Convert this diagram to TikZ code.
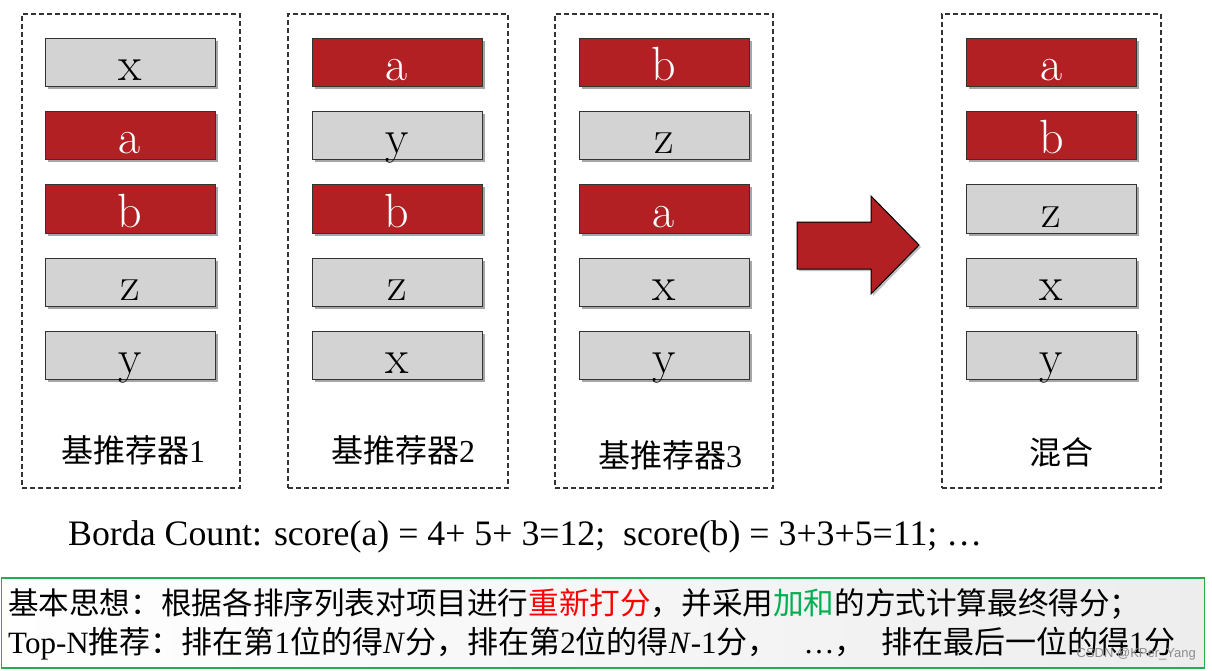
\documentclass[tikz,border=0pt]{standalone}
\usepackage{fontspec}
\newfontfamily\tms{Liberation Serif}
\newfontfamily\cjk{Noto Sans CJK SC}
\newfontfamily\wmf{Liberation Sans}
\usetikzlibrary{shadows}
\definecolor{boxred}{RGB}{178,32,36}
\definecolor{boxgray}{RGB}{211,211,211}
\definecolor{framegreen}{RGB}{40,170,80}
\definecolor{hlred}{RGB}{255,0,0}
\definecolor{hlgreen}{RGB}{0,176,80}
\tikzset{
  item/.style={draw=black!80, line width=1pt, minimum width=170pt, minimum height=48pt,
    inner sep=0pt, text height=42pt, text depth=6pt,
    font=\fontsize{48}{48}\selectfont,
    drop shadow={shadow xshift=2.5pt, shadow yshift=-2.5pt, fill=black, opacity=0.35}},
  hit/.style={item, fill=boxred, text=white},
  miss/.style={item, fill=boxgray, text=black},
  panel/.style={draw=black!80, line width=1.3pt, dash pattern=on 5pt off 3pt, inner sep=0pt},
  lab/.style={font=\tms\fontsize{32}{32}\selectfont, inner sep=0pt},
  bigarrow/.style={fill=boxred, draw=black, line width=1pt,
    drop shadow={shadow xshift=2pt, shadow yshift=-2pt, fill=black, opacity=0.25}},
  textline/.style={anchor=base west, inner sep=0pt}
}
\begin{document}
\begin{tikzpicture}[x=1pt,y=1pt]
\useasboundingbox (0,0) rectangle (1212,-671);

% panels
\node[panel, minimum width=218pt, minimum height=474pt] (p1) at (131,-251) {};
\node[panel, minimum width=220pt, minimum height=474pt] (p2) at (398,-251) {};
\node[panel, minimum width=218pt, minimum height=474pt] (p3) at (664,-251) {};
\node[panel, minimum width=219pt, minimum height=474pt] (p4) at (1051.5,-251) {};

% items
\foreach \t/\s [count=\i] in {x/miss,a/hit,b/hit,z/miss,y/miss}
  \node[\s] (a\i) at (130,{-63-73*(\i-1)}) {\t};
\foreach \t/\s [count=\i] in {a/hit,y/miss,b/hit,z/miss,x/miss}
  \node[\s] (b\i) at (397,{-63-73*(\i-1)}) {\t};
\foreach \t/\s [count=\i] in {b/hit,z/miss,a/hit,x/miss,y/miss}
  \node[\s] (c\i) at (664,{-63-73*(\i-1)}) {\t};
\foreach \t/\s [count=\i] in {a/hit,b/hit,z/miss,x/miss,y/miss}
  \node[\s] (d\i) at (1051.5,{-63-73*(\i-1)}) {\t};

% labels
\node[lab] (l1) at (133,-450) {{\cjk 基推荐器}1};
\node[lab] (l2) at (403,-450) {{\cjk 基推荐器}2};
\node[lab] (l3) at (670,-455) {{\cjk 基推荐器}3};
\node[lab] (l4) at (1061,-452) {{\cjk 混合}};

% block arrow
\draw[bigarrow] (797,-222) -- (871,-222) -- (871,-196) -- (919,-245)
  -- (871,-294) -- (871,-269) -- (797,-269) -- cycle;

% Borda count
\node[anchor=base west, inner sep=0pt, font=\tms\fontsize{35.8}{36}\selectfont] (borda) at (68,-545)
  {Borda Count: score(a) = 4+ 5+ 3=12;\ \ score(b) = 3+3+5=11; …};

% idea box
\node[draw=framegreen, line width=1.5pt, minimum width=1203pt, minimum height=90pt,
  anchor=north west, inner sep=0pt, left color=white, right color=black!7] (idea) at (0.75,-577) {};
\node[textline, font=\tms\fontsize{30.6}{31}\selectfont] (t1) at (8,-614)
  {{\cjk 基本思想：根据各排序列表对项目进行\textcolor{hlred}{重新打分}，并采用\textcolor{hlgreen}{加和}的方式计算最终得分；}};
\node[textline, font=\tms\fontsize{31}{31}\selectfont] (t2) at (8,-653)
  {Top-N{\cjk 推荐：排在第}1{\cjk 位的得}\textit{N}{\cjk 分，排在第}2{\cjk 位的得}\textit{N}-1{\cjk 分，}\hspace{0.8em}…{\cjk ，}\hspace{0.5em}{\cjk 排在最后一位的得}1{\cjk 分}};
\node[anchor=east, inner sep=0pt, font=\wmf\fontsize{13}{13}\selectfont, text=black!45] (wmk) at (1196,-654) {CSDN @KPer\_Yang};
\end{tikzpicture}
\end{document}
